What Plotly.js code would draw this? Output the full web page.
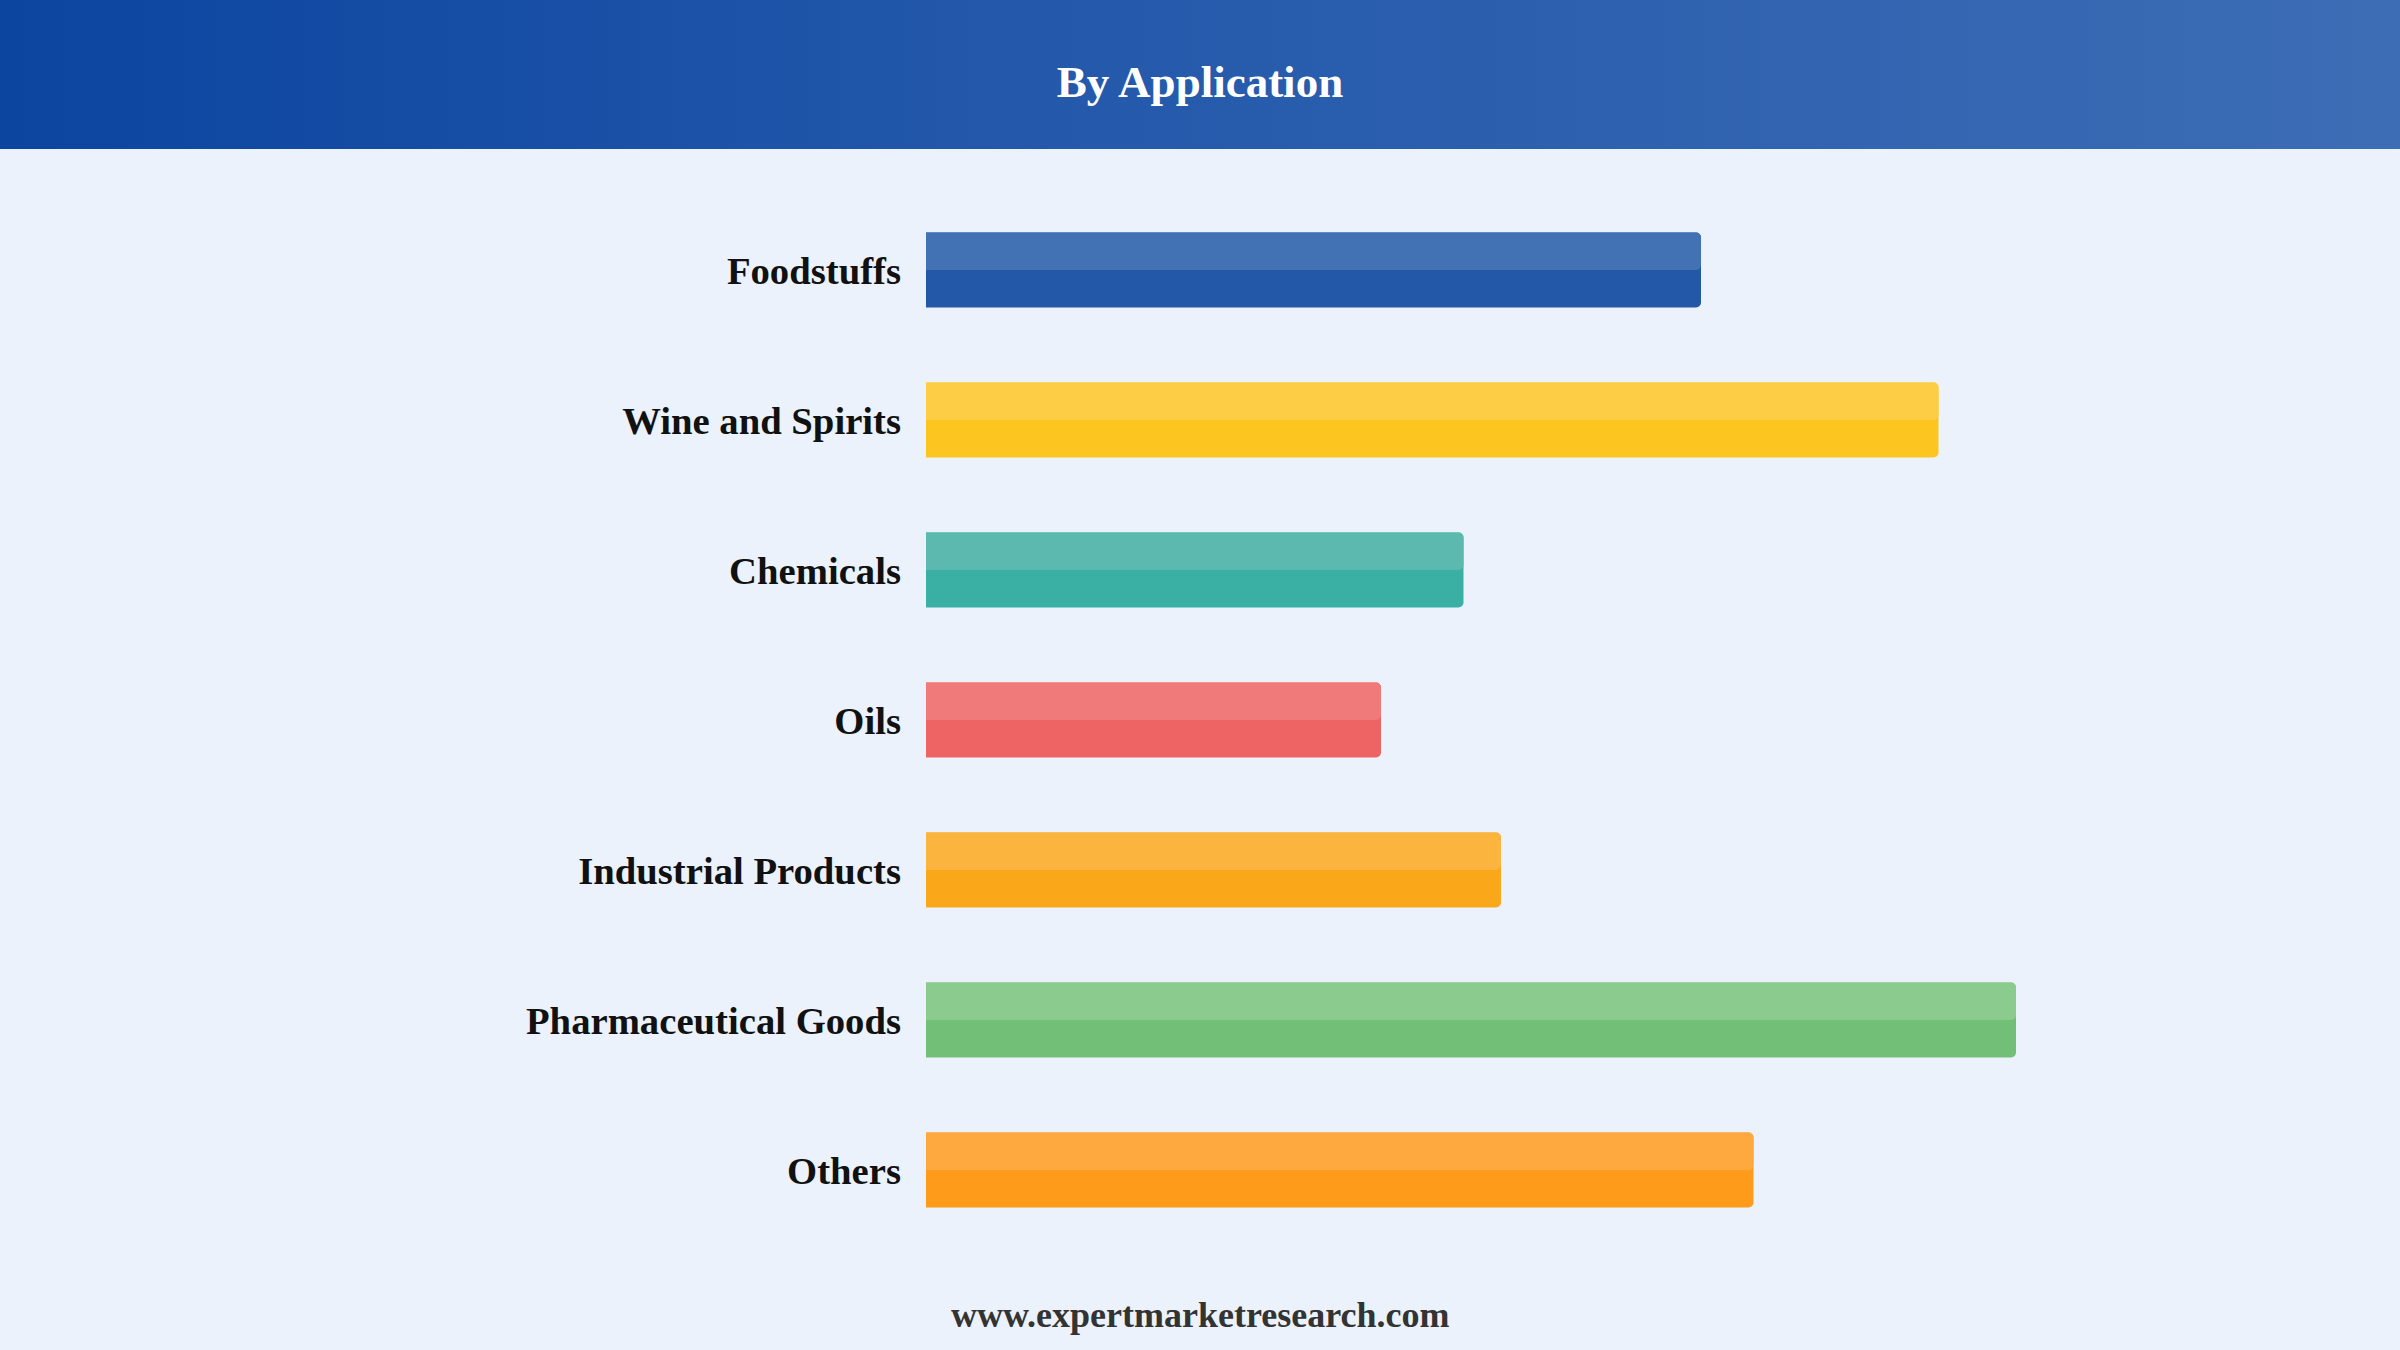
<!DOCTYPE html>
<html>
<head>
<meta charset="utf-8">
<script src="https://cdn.plot.ly/plotly-3.0.1.min.js"></script>
<style>
  html, body { margin: 0; padding: 0; width: 2400px; height: 1350px; background: #EBF2FC; overflow: hidden; }
  #header { position: absolute; left: 0; top: 0; width: 2400px; height: 149px;
            background: linear-gradient(to right, #0B45A0 0%, #2257AA 40%, #3C6DB5 100%); }
  #chart { position: absolute; left: 0; top: 0; width: 2400px; height: 1350px; }
</style>
</head>
<body>
<div id="header"></div>
<div id="chart"></div>
<script>
// Data
const categories = ["Foodstuffs", "Wine and Spirits", "Chemicals", "Oils", "Industrial Products", "Pharmaceutical Goods", "Others"];
const values = [31.0, 40.5, 21.5, 18.2, 23.0, 43.6, 33.1];
const darkColors = ["#2358A9", "#FCC520", "#3AAFA4", "#EE6464", "#FAA71A", "#72BF78", "#FE9B1B"];
const lightColors = ["#4272B4", "#FDCD45", "#5BB9AF", "#F07A7A", "#FBB43D", "#8BCB8D", "#FEA840"];
const titleText = "By Application";
const footerText = "www.expertmarketresearch.com";

const serif = "'Liberation Serif', 'Times New Roman', Times, serif";

const base = {
  type: "bar",
  orientation: "h",
  x: values,
  y: categories,
  hoverinfo: "skip",
  showlegend: false
};

const traces = [
  Object.assign({}, base, {
    width: 0.5, offset: -0.25,
    marker: { color: darkColors, cornerradius: 5, line: { width: 0 } }
  }),
  Object.assign({}, base, {
    width: 0.25, offset: -0.25,
    marker: { color: lightColors, cornerradius: 5, line: { width: 0 } }
  })
];

const layout = {
  width: 2400,
  height: 1350,
  paper_bgcolor: "rgba(0,0,0,0)",
  plot_bgcolor: "rgba(0,0,0,0)",
  barmode: "overlay",
  margin: { l: 926, r: 274, t: 195, b: 105, pad: 0 },
  title: {
    text: titleText,
    x: 0.5, xref: "container", xanchor: "center",
    y: 1 - 81 / 1350, yref: "container", yanchor: "middle",
    font: { family: serif, size: 45, color: "#FFFFFF", weight: "bold" }
  },
  xaxis: {
    range: [0, 48],
    visible: false,
    showgrid: false, zeroline: false, fixedrange: true
  },
  yaxis: {
    type: "category",
    range: [6.5, -0.5],
    showgrid: false, zeroline: false, showline: false,
    ticks: "",
    ticklabelstandoff: 24,
    tickfont: { family: serif, size: 38.7, color: "#111111", weight: "bold" },
    fixedrange: true
  },
  annotations: [{
    text: footerText,
    xref: "paper", yref: "paper",
    x: (1200 - 926) / 1200, y: -(1315 - 1245) / 1050,
    xanchor: "center", yanchor: "middle",
    showarrow: false,
    font: { family: serif, size: 36, color: "#333333", weight: "bold" }
  }]
};

Plotly.newPlot("chart", traces, layout, { displayModeBar: false, staticPlot: true });
</script>
</body>
</html>
